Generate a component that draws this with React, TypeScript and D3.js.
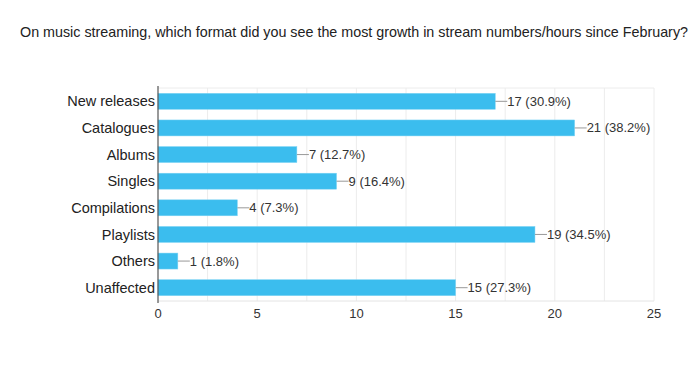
import * as d3 from 'd3';

const categories = ['New releases', 'Catalogues', 'Albums', 'Singles', 'Compilations', 'Playlists', 'Others', 'Unaffected'];
const counts = [17, 21, 7, 9, 4, 19, 1, 15];
const percents = ['30.9%', '38.2%', '12.7%', '16.4%', '7.3%', '34.5%', '1.8%', '27.3%'];
const xTicks = [0, 5, 10, 15, 20, 25];
const gridTicks = [2.5, 5, 7.5, 10, 12.5, 15, 17.5, 20, 22.5, 25];

const title = 'On music streaming, which format did you see the most growth in stream numbers/hours since February?';

export default function App() {
  const width = 700;
  const height = 365;
  const left = 158;
  const right = 654;
  const top = 88;
  const bottom = 301;

  const x = d3.scaleLinear().domain([0, 25]).range([left, right]);
  const y = d3.scaleBand<string>().domain(categories).range([top, bottom]).paddingInner(0.4).paddingOuter(0.2);

  const font = 'Liberation Sans, Arial, sans-serif';

  return (
    <svg width={width} height={height} style={{ position: 'absolute', top: 0, left: 0, background: '#fff' }}>
      <text x={20} y={37} fontFamily={font} fontSize={14.2} fill="#222" textLength={668} lengthAdjust="spacingAndGlyphs">{title}</text>

      {/* grid */}
      <line x1={left} x2={right} y1={top} y2={top} stroke="#ececec" />
      {gridTicks.map(t => (
        <line key={t} x1={x(t)} x2={x(t)} y1={top} y2={bottom} stroke="#ececec" />
      ))}
      <line x1={left} x2={right} y1={bottom} y2={bottom} stroke="#e4e4e4" />

      {categories.map((c, i) => {
        const by = y(c)!;
        const bh = y.bandwidth();
        const cy = by + bh / 2;
        const end = x(counts[i]);
        return (
          <g key={c}>
            <rect x={x(0)} y={by} width={end - x(0)} height={bh} fill="#3bbdee" stroke="#7fd3f3" strokeWidth={0.5} />
            <text x={left - 3} y={cy} dy="0.35em" textAnchor="end" fontFamily={font} fontSize={14.5} fill="#222">{c}</text>
            <line x1={end} x2={end + 12} y1={cy} y2={cy} stroke="#999" />
            <text x={end + 12} y={cy} dy="0.35em" fontFamily={font} fontSize={13} fill="#333">{`${counts[i]} (${percents[i]})`}</text>
          </g>
        );
      })}

      <line x1={left} x2={left} y1={top - 2} y2={bottom + 2} stroke="#555" strokeWidth={1.2} />

      {xTicks.map(t => (
        <text key={t} x={x(t)} y={318} textAnchor="middle" fontFamily={font} fontSize={13} fill="#333">{t}</text>
      ))}
    </svg>
  );
}
